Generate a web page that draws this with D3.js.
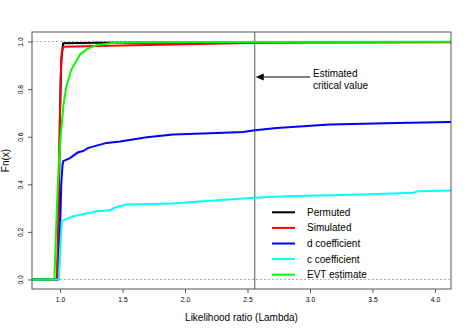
<!DOCTYPE html>
<html>
<head>
<meta charset="utf-8">
<script src="https://cdn.jsdelivr.net/npm/d3@7"></script>
<style>
  body { margin: 0; background: #fff; }
  svg text { font-family: "Liberation Sans", Arial, Helvetica, sans-serif; }
</style>
</head>
<body>
<div id="chart"></div>
<script>
// tick labels
var xTicks = [1.0, 1.5, 2.0, 2.5, 3.0, 3.5, 4.0];
var yTicks = [0, 0.2, 0.4, 0.6, 0.8, 1.0];

// series (x = lambda, y = Fn(x))
var permutedX = [0.776, 0.98, 0.99, 1.0, 1.01, 1.025, 1.3, 4.128];
var permutedY = [0, 0, 0.3, 0.7, 0.92, 0.993, 0.995, 0.998];

var simulatedX = [0.776, 0.965, 0.975, 0.985, 0.995, 1.005, 1.015, 1.03, 1.5, 2.0, 2.5, 2.7, 4.128];
var simulatedY = [0, 0, 0.01, 0.2, 0.55, 0.85, 0.96, 0.978, 0.983, 0.989, 0.994, 0.996, 0.997];

var dCoefX = [0.776, 0.99, 1.0, 1.01, 1.02, 1.026, 1.08, 1.146, 1.186, 1.226, 1.374, 1.48, 1.694, 1.906, 2.254, 2.466, 2.558, 2.734, 3.16, 3.694, 4.128];
var dCoefY = [0, 0, 0.2, 0.4, 0.48, 0.497, 0.51, 0.535, 0.54, 0.553, 0.574, 0.58, 0.598, 0.609, 0.616, 0.62, 0.627, 0.637, 0.651, 0.658, 0.662];

var cCoefX = [0.776, 0.99, 1.0, 1.014, 1.106, 1.24, 1.294, 1.4, 1.454, 1.534, 1.906, 2.146, 2.558, 2.814, 3.424, 3.824, 3.864, 4.128];
var cCoefY = [0, 0, 0.12, 0.245, 0.266, 0.28, 0.287, 0.291, 0.305, 0.315, 0.319, 0.329, 0.343, 0.35, 0.357, 0.364, 0.371, 0.374];

var evtX = [0.776, 0.955, 0.975, 0.99, 1.005, 1.027, 1.05, 1.09, 1.16, 1.22, 1.29, 1.42, 1.6, 2.0, 4.128];
var evtY = [0, 0, 0.3, 0.48, 0.6, 0.73, 0.81, 0.88, 0.945, 0.97, 0.984, 0.994, 0.997, 0.998, 0.999];

var seriesNames = ["Permuted", "Simulated", "d coefficient", "c coefficient", "EVT estimate"];
var seriesColors = ["#000000", "#ff0000", "#0000ff", "#00ffff", "#00ff00"];
var seriesXs = [permutedX, simulatedX, dCoefX, cCoefX, evtX];
var seriesYs = [permutedY, simulatedY, dCoefY, cCoefY, evtY];

var criticalValue = 2.558;

var width = 467, height = 331;
var margin = {top: 32, right: 16, bottom: 42, left: 32};

var svg = d3.select("#chart").append("svg")
    .attr("width", width)
    .attr("height", height);

var x = d3.scaleLinear().domain([0.776, 4.128]).range([margin.left, width - margin.right]);
var y = d3.scaleLinear().domain([-0.04, 1.04]).range([height - margin.bottom, margin.top]);

// dotted reference lines at 0 and 1
[0, 1].forEach(function(v) {
  svg.append("line")
    .attr("x1", margin.left).attr("x2", width - margin.right)
    .attr("y1", y(v)).attr("y2", y(v))
    .attr("stroke", "#b0b0b0").attr("stroke-width", 1)
    .attr("stroke-dasharray", "2,2");
});

// critical value line
svg.append("line")
  .attr("x1", x(criticalValue)).attr("x2", x(criticalValue))
  .attr("y1", margin.top).attr("y2", height - margin.bottom)
  .attr("stroke", "#555").attr("stroke-width", 1);

// curves
var line = d3.line()
  .x(function(d) { return x(d[0]); })
  .y(function(d) { return y(d[1]); });

for (var i = 0; i < seriesNames.length; i++) {
  var pts = seriesXs[i].map(function(v, j) { return [v, seriesYs[i][j]]; });
  svg.append("path")
    .datum(pts)
    .attr("d", line)
    .attr("fill", "none")
    .attr("stroke", seriesColors[i])
    .attr("stroke-width", 2)
    .attr("stroke-linejoin", "round");
}

// box
svg.append("rect")
  .attr("x", margin.left).attr("y", margin.top)
  .attr("width", width - margin.left - margin.right)
  .attr("height", height - margin.top - margin.bottom)
  .attr("fill", "none").attr("stroke", "#555").attr("stroke-width", 1);

// axes
var xAxis = svg.append("g")
  .attr("transform", "translate(0," + (height - margin.bottom) + ")")
  .call(d3.axisBottom(x).tickValues(xTicks).tickFormat(d3.format(".1f")).tickSize(4).tickPadding(4));
var yAxis = svg.append("g")
  .attr("transform", "translate(" + margin.left + ",0)")
  .call(d3.axisLeft(y).tickValues(yTicks).tickFormat(d3.format(".1f")).tickSize(4).tickPadding(4));

[xAxis, yAxis].forEach(function(g) {
  g.select(".domain").remove();
  g.selectAll(".tick line").attr("stroke", "#555");
  g.selectAll(".tick text").attr("fill", "#000").style("font-size", "6.7px")
    .style("font-family", "'Liberation Sans', Arial, sans-serif");
});
yAxis.selectAll(".tick text")
  .attr("text-anchor", "middle")
  .attr("x", null).attr("dy", null)
  .attr("transform", "translate(-11,0) rotate(-90)")
  .attr("y", 0).attr("dy", "0.35em");

// axis titles
svg.append("text")
  .attr("x", (margin.left + width - margin.right) / 2)
  .attr("y", 321)
  .attr("text-anchor", "middle")
  .style("font-size", "10px")
  .text("Likelihood ratio (Lambda)");

svg.append("text")
  .attr("transform", "translate(9," + (margin.top + height - margin.bottom) / 2 + ") rotate(-90)")
  .attr("text-anchor", "middle")
  .style("font-size", "10px")
  .text("Fn(x)");

// arrow and annotation
var arrowY = 77;
svg.append("line")
  .attr("x1", 310).attr("x2", x(criticalValue) + 6)
  .attr("y1", arrowY).attr("y2", arrowY)
  .attr("stroke", "#000").attr("stroke-width", 1);
svg.append("path")
  .attr("d", "M" + (x(criticalValue) + 1) + "," + arrowY + " l8,-3.5 l0,7 z")
  .attr("fill", "#000");
svg.append("text").attr("x", 313).attr("y", 76.5).style("font-size", "10px").text("Estimated");
svg.append("text").attr("x", 313).attr("y", 88.5).style("font-size", "10px").text("critical value");

// legend
var legend = svg.append("g");
seriesNames.forEach(function(name, i) {
  var ly = 212.3 + i * 15.6;
  legend.append("line")
    .attr("x1", 272).attr("x2", 295)
    .attr("y1", ly).attr("y2", ly)
    .attr("stroke", seriesColors[i]).attr("stroke-width", 2);
  legend.append("text")
    .attr("x", 307).attr("y", ly).attr("dy", "0.35em")
    .style("font-size", "10px")
    .text(name);
});
</script>
</body>
</html>
